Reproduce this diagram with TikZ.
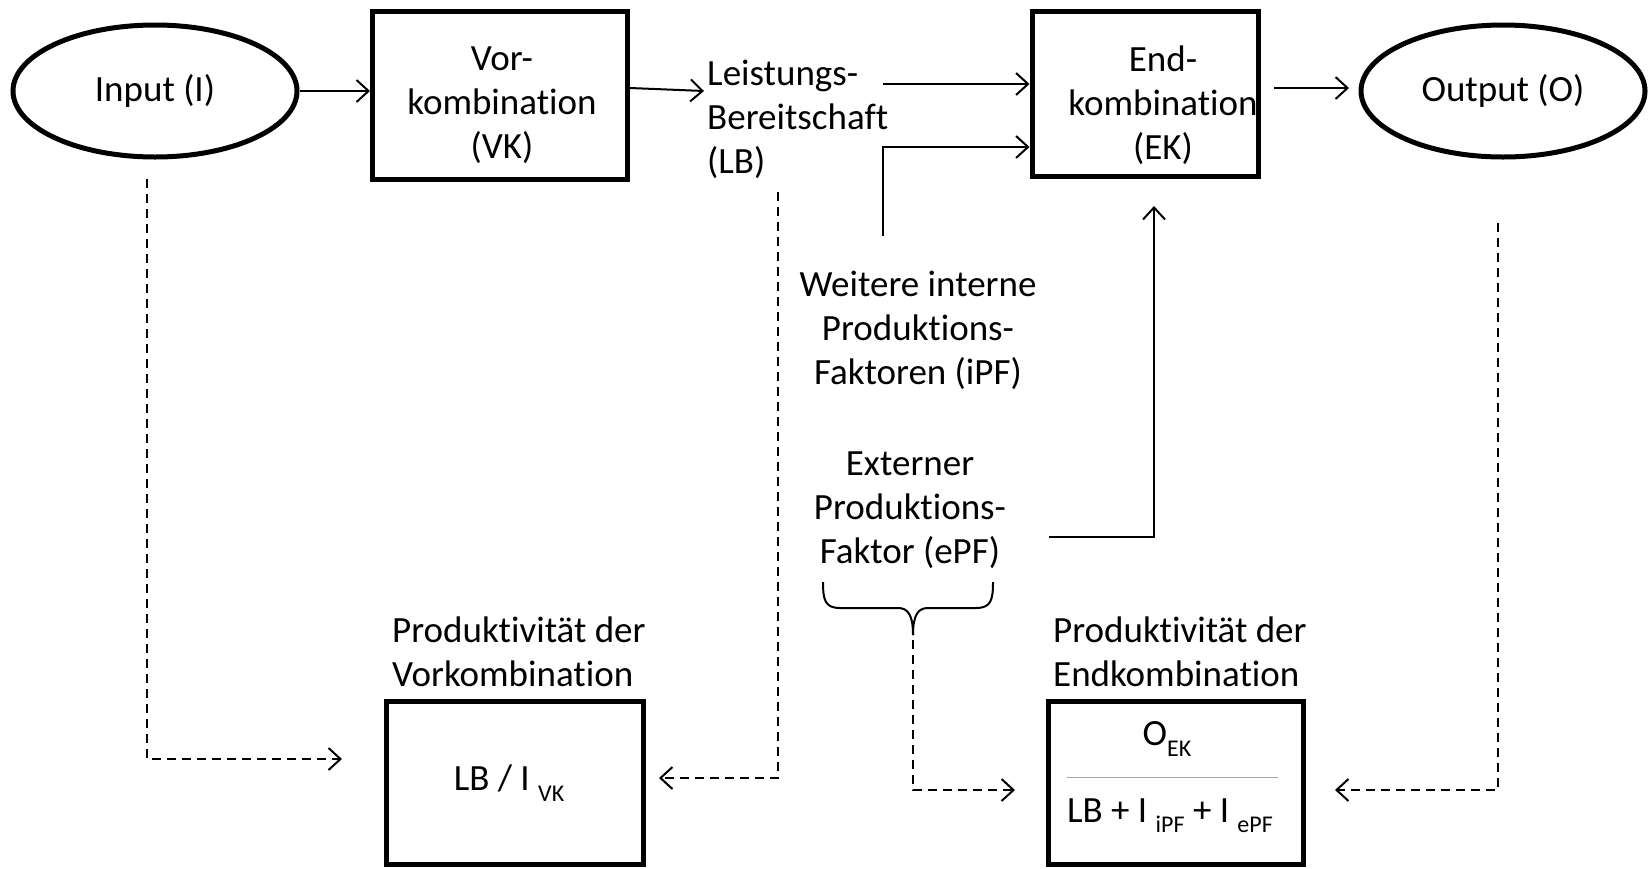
\documentclass[tikz,border=0pt]{standalone}
\usepackage{fontspec}
\setmainfont{Carlito}[Ligatures={NoCommon}]
\usetikzlibrary{shapes.geometric,arrows.meta}
\newcommand\mysub[1]{\raisebox{-0.28em}{\fontsize{24}{24}\selectfont #1}}
\begin{document}
\begin{tikzpicture}[x=1pt,y=-1pt,
  every node/.style={font=\fontsize{37}{44}\selectfont, inner sep=0pt},
  thickbox/.style={draw, line width=5pt, rectangle},
  oval/.style={draw, line width=5pt, ellipse},
  flow/.style={line width=2pt, -{Straight Barb[length=12pt,width=22pt,line width=2pt]}},
  dflow/.style={flow, dash pattern=on 9pt off 6pt},
  lbl/.style={align=center},
  lblleft/.style={align=left, anchor=west}]
\useasboundingbox (0,0) rectangle (1648,868);
% top row
\node[oval, minimum width=284pt, minimum height=132pt] (in) at (155,91) {Input (I)};
\node[thickbox, minimum width=255pt, minimum height=168pt] (vk) at (500,95) {};
\node[lbl] (vkt) at (502,105) {Vor-\\kombination\\(VK)};
\node[lblleft] (lb) at (707,119) {Leistungs-\\Bereitschaft\\(LB)};
\node[thickbox, minimum width=226pt, minimum height=165pt] (ek) at (1145,93.5) {};
\node[lbl] (ekt) at (1163,105) {End-\\kombination\\(EK)};
\node[oval, minimum width=284pt, minimum height=132pt] (out) at (1503,91) {Output (O)};
% middle texts
\node[lbl] (ipf) at (918,330) {Weitere interne\\Produktions-\\Faktoren (iPF)};
\node[lbl] (epf) at (910,510) {Externer\\Produktions-\\Faktor (ePF)};
% bottom
\node[lblleft] (vkpt) at (392,652) {Produktivität der\\Vorkombination};
\node[thickbox, minimum width=257pt, minimum height=163pt] (vkp) at (514.5,782.5) {};
\node (vkf) at (509,783) {LB / I \mysub{VK}};
\node[lblleft] (ekpt) at (1053,652) {Produktivität der\\Endkombination};
\node[thickbox, minimum width=255pt, minimum height=163pt] (ekp) at (1175.5,782.5) {};
\node (ekn) at (1167,739) {O\mysub{EK}};
\node (ekd) at (1170,816) {LB + I \mysub{iPF} + I \mysub{ePF}};
\draw[line width=1pt, gray!70] (1067,777) -- (1278,777);
% coordinates
\coordinate (lbin) at (704,91);
\coordinate (lbout) at (883,84);
\coordinate (ipftop) at (883,236);
\coordinate (epfout) at (1049,537);
\coordinate (ekbelow) at (1154,206);
\coordinate (ekout) at (1274,88);
\coordinate (outin) at (1349,88);
\coordinate (ind) at (147,179);
\coordinate (vkpin) at (342,759);
\coordinate (lbd) at (778,192);
\coordinate (vkpin2) at (659,778);
\coordinate (braced) at (913,640);
\coordinate (ekpin) at (1015,790);
\coordinate (outd) at (1498,223);
\coordinate (ekpin2) at (1335,790);
% solid connectors
\draw[flow] (in.east) -- (in.east -| vk.west);
\draw[flow] ([yshift=7pt]vk.east) -- (lbin);
\draw[flow] (lbout) -- (lbout -| ek.west);
\draw[flow] (ipftop) |- ([yshift=-53.5pt]ek.west);
\draw[flow] (epfout) -| (ekbelow);
\draw[flow] (ekout) -- (outin);
% dashed connectors
\draw[dflow] (ind) |- (vkpin);
\draw[dflow] (lbd) |- (vkpin2);
\draw[dflow] (braced) |- (ekpin);
\draw[dflow] (outd) |- (ekpin2);
% brace
\draw[line width=2pt] (823,582) .. controls (823,600) and (825,608) .. (840,608) -- (898,608) .. controls (908,608) and (913,615) .. (913,635);
\draw[line width=2pt] (993,582) .. controls (993,600) and (991,608) .. (976,608) -- (928,608) .. controls (918,608) and (913,615) .. (913,635);
\end{tikzpicture}
\end{document}
